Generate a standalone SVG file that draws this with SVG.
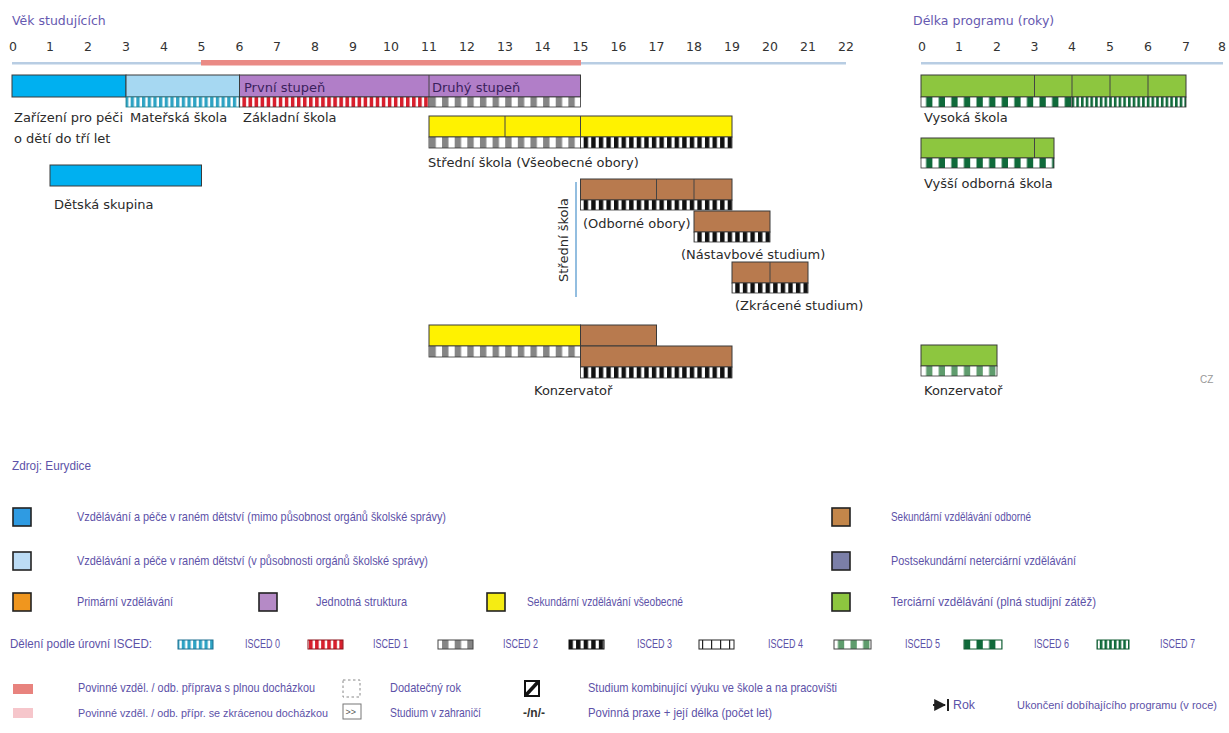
<svg xmlns="http://www.w3.org/2000/svg" width="1229" height="733" viewBox="0 0 1229 733">
<style>
.t{font-family:"DejaVu Sans","Liberation Sans",sans-serif;font-size:13px;fill:#2a2a2a}
.num{font-family:"DejaVu Sans","Liberation Sans",sans-serif;font-size:12.5px;fill:#333;text-anchor:middle}
.title{font-family:"DejaVu Sans","Liberation Sans",sans-serif;font-size:12.5px;fill:#6659b0}
.in{font-family:"DejaVu Sans","Liberation Sans",sans-serif;font-size:13px;fill:#3a1f5c}
.lg{font-family:"Liberation Sans",Arial,sans-serif;font-size:13px;fill:#5d52a8}
.lgs{font-family:"Liberation Sans",Arial,sans-serif;font-size:11.3px;fill:#5d52a8}
.bar{stroke:#3a3a3a;stroke-width:1}
.strip{stroke:#333;stroke-width:0.8}
.div{stroke:#444;stroke-width:1}
.sw{stroke:#222;stroke-width:1.6}
</style>
<defs>
<pattern id="p0" patternUnits="userSpaceOnUse" width="5.68" height="40"><rect width="5.68" height="40" fill="#fff"/><rect x="0" width="3.3" height="40" fill="#2ea3c4"/></pattern>
<pattern id="p1" patternUnits="userSpaceOnUse" width="6.06" height="40"><rect width="6.06" height="40" fill="#fff"/><rect x="0" width="3.6" height="40" fill="#d81f2d"/></pattern>
<pattern id="p2" patternUnits="userSpaceOnUse" width="12.63" height="40"><rect width="12.63" height="40" fill="#fff"/><rect x="0" width="6.4" height="40" fill="#858585"/></pattern>
<pattern id="p3" patternUnits="userSpaceOnUse" width="7.58" height="40"><rect width="7.58" height="40" fill="#fff"/><rect x="0" width="4.4" height="40" fill="#111"/></pattern>
<pattern id="p4" patternUnits="userSpaceOnUse" width="9" height="40"><rect width="9" height="40" fill="#fff"/><rect x="0" width="1.2" height="40" fill="#222"/></pattern>
<pattern id="p5" patternUnits="userSpaceOnUse" width="12.6" height="40"><rect width="12.6" height="40" fill="#fff"/><rect x="6.3" width="6.3" height="40" fill="#5f9c6d"/></pattern>
<pattern id="p6" patternUnits="userSpaceOnUse" width="12.6" height="40"><rect width="12.6" height="40" fill="#fff"/><rect x="6.3" width="6.3" height="40" fill="#0f6a3a"/></pattern>
<pattern id="p7" patternUnits="userSpaceOnUse" width="4.7" height="40"><rect width="4.7" height="40" fill="#fff"/><rect x="0" width="2.6" height="40" fill="#0f6a3a"/></pattern>
<marker id="arr" viewBox="0 0 10 10" refX="9" refY="5" markerWidth="6" markerHeight="6" orient="auto"><path d="M0,0 L10,5 L0,10 z" fill="#222"/></marker>
</defs>
<rect width="1229" height="733" fill="#fff"/>

<g id="age-axis">
<text class="title" x="12" y="25">Věk studujících</text>
<rect x="12" y="62" width="834" height="2.5" fill="#b8cde3"/>
<rect x="201" y="60" width="380" height="5.5" fill="#ea8a85"/>
<text class="num" x="13" y="51">0</text><text class="num" x="50" y="51">1</text><text class="num" x="88" y="51">2</text><text class="num" x="126" y="51">3</text><text class="num" x="164" y="51">4</text><text class="num" x="201.5" y="51">5</text><text class="num" x="239.5" y="51">6</text><text class="num" x="277" y="51">7</text><text class="num" x="315" y="51">8</text><text class="num" x="353" y="51">9</text><text class="num" x="391" y="51">10</text><text class="num" x="429" y="51">11</text><text class="num" x="467" y="51">12</text><text class="num" x="505" y="51">13</text><text class="num" x="542.5" y="51">14</text><text class="num" x="580.5" y="51">15</text><text class="num" x="618.5" y="51">16</text><text class="num" x="656.5" y="51">17</text><text class="num" x="694" y="51">18</text><text class="num" x="732" y="51">19</text><text class="num" x="770" y="51">20</text><text class="num" x="808" y="51">21</text><text class="num" x="846" y="51">22</text>
</g>

<g id="prog-axis">
<text class="title" x="913" y="25">Délka programu (roky)</text>
<rect x="921" y="62" width="302" height="2.5" fill="#b8cde3"/>
<text class="num" x="922" y="51">0</text><text class="num" x="959" y="51">1</text><text class="num" x="997" y="51">2</text><text class="num" x="1034.5" y="51">3</text><text class="num" x="1072" y="51">4</text><text class="num" x="1110" y="51">5</text><text class="num" x="1148" y="51">6</text><text class="num" x="1186" y="51">7</text><text class="num" x="1222" y="51">8</text>
</g>

<g id="zarizeni">
<rect class="bar" x="12" y="75" width="114" height="22" fill="#00b0f0"/>
<text class="t" x="14" y="122">Zařízení pro péči</text>
<text class="t" x="14" y="143">o dětí do tří let</text>
</g>

<g id="materska">
<rect class="bar" x="126" y="75" width="113.5" height="22" fill="#a6d8f2"/>
<rect x="126" y="97" width="113.5" height="10" fill="url(#p0)" stroke="#1f7f8f" stroke-width="0.8"/>
<text class="t" x="130" y="122">Mateřská škola</text>
</g>

<g id="zakladni">
<rect class="bar" x="239.5" y="75" width="341" height="22" fill="#b17ec8"/>
<line class="div" x1="429" y1="75" x2="429" y2="97"/>
<text class="in" x="244" y="92">První stupeň</text>
<text class="in" x="432" y="92">Druhý stupeň</text>
<rect class="strip" x="239.5" y="97" width="189.5" height="10" fill="url(#p1)"/>
<rect class="strip" x="429" y="97" width="151.5" height="10" fill="url(#p2)"/>
<text class="t" x="243" y="122">Základní škola</text>
</g>

<g id="stredni-vseobecne">
<rect class="bar" x="429" y="116" width="303" height="21" fill="#fff200"/>
<line class="div" x1="505" y1="116" x2="505" y2="137"/>
<line class="div" x1="580.5" y1="116" x2="580.5" y2="137"/>
<rect class="strip" x="429" y="137" width="151.5" height="11" fill="url(#p2)"/>
<rect class="strip" x="580.5" y="137" width="151.5" height="11" fill="url(#p3)"/>
<text class="t" x="428" y="167">Střední škola (Všeobecné obory)</text>
</g>

<g id="detska-skupina">
<rect class="bar" x="50" y="165" width="151.5" height="21" fill="#00b0f0"/>
<text class="t" x="54" y="209">Dětská skupina</text>
</g>

<g id="stredni-skola-label">
<line x1="576" y1="182" x2="576" y2="297" stroke="#6fa8d6" stroke-width="1.5"/>
<text class="t" transform="translate(568,240) rotate(-90)" text-anchor="middle">Střední škola</text>
</g>

<g id="odborne">
<rect class="bar" x="580.5" y="179" width="151.5" height="21" fill="#b87a4e"/>
<line class="div" x1="656.5" y1="179" x2="656.5" y2="200"/>
<line class="div" x1="694" y1="179" x2="694" y2="200"/>
<rect class="strip" x="580.5" y="200" width="151.5" height="10" fill="url(#p3)"/>
<text class="t" x="583" y="228">(Odborné obory)</text>
</g>

<g id="nastavbove">
<rect class="bar" x="694" y="211" width="76" height="21" fill="#b87a4e"/>
<rect class="strip" x="694" y="232" width="76" height="10" fill="url(#p3)"/>
<text class="t" x="681" y="259">(Nástavbové studium)</text>
</g>

<g id="zkracene">
<rect class="bar" x="732" y="262" width="76" height="21" fill="#b87a4e"/>
<line class="div" x1="770" y1="262" x2="770" y2="283"/>
<rect class="strip" x="732" y="283" width="76" height="10" fill="url(#p3)"/>
<text class="t" x="735" y="310">(Zkrácené studium)</text>
</g>

<g id="konzervator-sec">
<rect class="bar" x="429" y="325" width="151.5" height="21" fill="#fff200"/>
<rect class="strip" x="429" y="346" width="151.5" height="11" fill="url(#p2)"/>
<rect class="bar" x="580.5" y="325" width="76" height="21" fill="#b87a4e"/>
<rect class="bar" x="580.5" y="346" width="151.5" height="21" fill="#b87a4e"/>
<rect class="strip" x="580.5" y="367" width="151.5" height="11" fill="url(#p3)"/>
<text class="t" x="534" y="395">Konzervatoř</text>
</g>

<g id="vysoka">
<rect class="bar" x="921" y="75" width="265" height="22" fill="#8dc63f"/>
<line class="div" x1="1034.5" y1="75" x2="1034.5" y2="97"/>
<line class="div" x1="1072" y1="75" x2="1072" y2="97"/>
<line class="div" x1="1110" y1="75" x2="1110" y2="97"/>
<line class="div" x1="1148" y1="75" x2="1148" y2="97"/>
<rect class="strip" x="921" y="97" width="151" height="10" fill="url(#p6)"/>
<rect class="strip" x="1072" y="97" width="114" height="10" fill="url(#p7)"/>
<text class="t" x="924" y="122">Vysoká škola</text>
</g>

<g id="vyssi-odborna">
<rect class="bar" x="921" y="138" width="133" height="20" fill="#8dc63f"/>
<line class="div" x1="1034.5" y1="138" x2="1034.5" y2="158"/>
<rect class="strip" x="921" y="158" width="133" height="10" fill="url(#p6)"/>
<text class="t" x="924" y="188">Vyšší odborná škola</text>
</g>

<g id="konzervator-ter">
<rect class="bar" x="921" y="345" width="76" height="21" fill="#8dc63f"/>
<rect class="strip" x="921" y="366" width="76" height="10" fill="url(#p5)"/>
<text class="t" x="924" y="395">Konzervatoř</text>
</g>

<text x="1200" y="383" font-family="Liberation Sans,sans-serif" font-size="10" fill="#999">CZ</text>

<g id="legend">
<text class="lg" x="12" y="470" textLength="79" lengthAdjust="spacingAndGlyphs">Zdroj: Eurydice</text>

<rect class="sw" x="13" y="508" width="18" height="18" fill="#2f9be2"/>
<text class="lg" x="77" y="521" textLength="369" lengthAdjust="spacingAndGlyphs">Vzdělávání a péče v raném dětství (mimo působnost orgánů školské správy)</text>
<rect class="sw" x="832" y="508" width="18" height="18" fill="#c3864a"/>
<text class="lg" x="891" y="521" textLength="140" lengthAdjust="spacingAndGlyphs">Sekundární vzdělávání odborné</text>

<rect class="sw" x="13" y="552" width="18" height="18" fill="#bcdcf5"/>
<text class="lg" x="77" y="565" textLength="351" lengthAdjust="spacingAndGlyphs">Vzdělávání a péče v raném dětství (v působnosti orgánů školské správy)</text>
<rect class="sw" x="832" y="552" width="18" height="18" fill="#7b7fa8"/>
<text class="lg" x="891" y="565" textLength="185" lengthAdjust="spacingAndGlyphs">Postsekundární neterciární vzdělávání</text>

<rect class="sw" x="13" y="593" width="18" height="18" fill="#f0961e"/>
<text class="lg" x="77" y="606" textLength="96" lengthAdjust="spacingAndGlyphs">Primární vzdělávání</text>
<rect class="sw" x="259" y="593" width="18" height="18" fill="#b58ac6"/>
<text class="lg" x="316" y="606" textLength="91" lengthAdjust="spacingAndGlyphs">Jednotná struktura</text>
<rect class="sw" x="487" y="593" width="18" height="18" fill="#f5ec13"/>
<text class="lg" x="527" y="606" textLength="156" lengthAdjust="spacingAndGlyphs">Sekundární vzdělávání všeobecné</text>
<rect class="sw" x="832" y="593" width="18" height="18" fill="#8dc63f"/>
<text class="lg" x="891" y="606" textLength="205" lengthAdjust="spacingAndGlyphs">Terciární vzdělávání (plná studijní zátěž)</text>

<text class="lg" x="10" y="648" textLength="142" lengthAdjust="spacingAndGlyphs">Dělení podle úrovní ISCED:</text>
<rect x="178" y="640" width="35" height="9" fill="url(#p0)" stroke="#1f6f8f" stroke-width="1"/>
<text class="lg" x="245" y="648" textLength="35" lengthAdjust="spacingAndGlyphs">ISCED 0</text>
<rect x="308" y="640" width="35" height="9" fill="url(#p1)" stroke="#8a1018" stroke-width="1"/>
<text class="lg" x="373" y="648" textLength="35" lengthAdjust="spacingAndGlyphs">ISCED 1</text>
<rect x="438" y="640" width="35" height="9" fill="url(#p2)" stroke="#444" stroke-width="1"/>
<text class="lg" x="503" y="648" textLength="35" lengthAdjust="spacingAndGlyphs">ISCED 2</text>
<rect x="569" y="640" width="35" height="9" fill="url(#p3)" stroke="#111" stroke-width="1"/>
<text class="lg" x="637" y="648" textLength="35" lengthAdjust="spacingAndGlyphs">ISCED 3</text>
<rect x="699" y="640" width="35" height="9" fill="url(#p4)" stroke="#222" stroke-width="1"/>
<text class="lg" x="768" y="648" textLength="35" lengthAdjust="spacingAndGlyphs">ISCED 4</text>
<rect x="834" y="640" width="37" height="9" fill="url(#p5)" stroke="#444" stroke-width="1"/>
<text class="lg" x="905" y="648" textLength="35" lengthAdjust="spacingAndGlyphs">ISCED 5</text>
<rect x="964" y="640" width="38" height="9" fill="url(#p6)" stroke="#0f5a30" stroke-width="1"/>
<text class="lg" x="1034" y="648" textLength="35" lengthAdjust="spacingAndGlyphs">ISCED 6</text>
<rect x="1097" y="640" width="32" height="9" fill="url(#p7)" stroke="#0f5a30" stroke-width="1"/>
<text class="lg" x="1160" y="648" textLength="35" lengthAdjust="spacingAndGlyphs">ISCED 7</text>

<rect x="13" y="684" width="20" height="10" fill="#e8837e"/>
<text class="lg" x="78" y="692" textLength="237" lengthAdjust="spacingAndGlyphs">Povinné vzděl. / odb. příprava s plnou docházkou</text>
<rect x="343" y="680" width="17" height="17" fill="none" stroke="#888" stroke-width="1" stroke-dasharray="2.5,2.5"/>
<text class="lg" x="390" y="692" textLength="71" lengthAdjust="spacingAndGlyphs">Dodatečný rok</text>
<rect x="525" y="681" width="14" height="15" fill="#fff" stroke="#111" stroke-width="2"/>
<line x1="526" y1="695" x2="538" y2="682" stroke="#111" stroke-width="3.5"/>
<text class="lg" x="588" y="692" textLength="249" lengthAdjust="spacingAndGlyphs">Studium kombinující výuku ve škole a na pracovišti</text>

<rect x="13" y="708" width="20" height="10" fill="#f6c6cb"/>
<text class="lgs" x="78" y="717" textLength="250" lengthAdjust="spacingAndGlyphs">Povinné vzděl. / odb. přípr. se zkrácenou docházkou</text>
<rect x="343" y="704" width="18" height="15" fill="none" stroke="#777" stroke-width="1"/>
<text x="345.5" y="715" font-family="Liberation Sans,sans-serif" font-size="9" fill="#555">&gt;&gt;</text>
<text class="lg" x="390" y="717" textLength="91" lengthAdjust="spacingAndGlyphs">Studium v zahraničí</text>
<text x="523" y="717" font-family="Liberation Sans,sans-serif" font-size="12" font-weight="bold" fill="#333">-/n/-</text>
<text class="lg" x="588" y="717" textLength="184" lengthAdjust="spacingAndGlyphs">Povinná praxe + její délka (počet let)</text>

<line x1="933" y1="705" x2="945" y2="705" stroke="#222" stroke-width="2" marker-end="url(#arr)"/>
<line x1="948" y1="699" x2="948" y2="711" stroke="#222" stroke-width="2"/>
<text class="lg" x="953" y="709" textLength="22" lengthAdjust="spacingAndGlyphs">Rok</text>
<text class="lgs" x="1017" y="709" textLength="200" lengthAdjust="spacingAndGlyphs">Ukončení dobíhajícího programu (v roce)</text>
</g>
</svg>
